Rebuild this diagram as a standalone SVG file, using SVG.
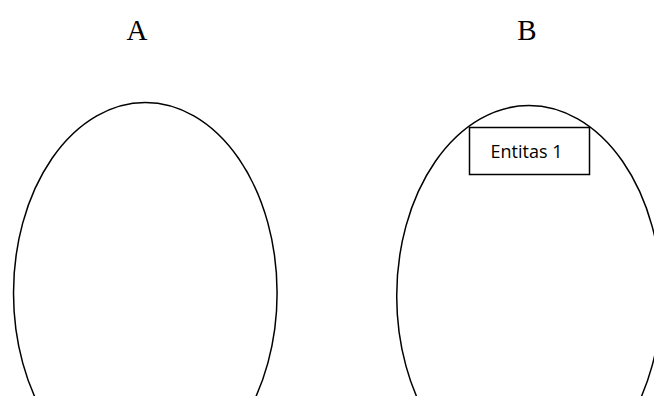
<svg xmlns="http://www.w3.org/2000/svg" width="654" height="396" viewBox="0 0 654 396">
  <style>
    .shape { fill: none; stroke: #000; stroke-width: 1.5; }
    .box { fill: #fff; stroke: #000; stroke-width: 1.5; }
    .title { font-family: "Liberation Serif", "Times New Roman", serif; font-size: 29px; fill: #000; text-anchor: middle; }
    .label { font-family: "Open Sans", "Liberation Sans", sans-serif; font-size: 18px; fill: #000; text-anchor: middle; }
  </style>
  <rect width="654" height="396" fill="#fff"/>
  <g id="labelA"><text class="title" x="137" y="39.5">A</text></g>
  <g id="labelB"><text class="title" x="527" y="39.5">B</text></g>
  <g id="setA"><ellipse class="shape" cx="145.3" cy="293" rx="131.8" ry="190.5"/></g>
  <g id="setB"><ellipse class="shape" cx="529" cy="296" rx="132.3" ry="190.5"/></g>
  <g id="entitas1">
    <rect class="box" x="469.5" y="127.5" width="120" height="47"/>
    <text class="label" x="526.5" y="158">Entitas 1</text>
  </g>
  <g id="connectors"></g>
</svg>
